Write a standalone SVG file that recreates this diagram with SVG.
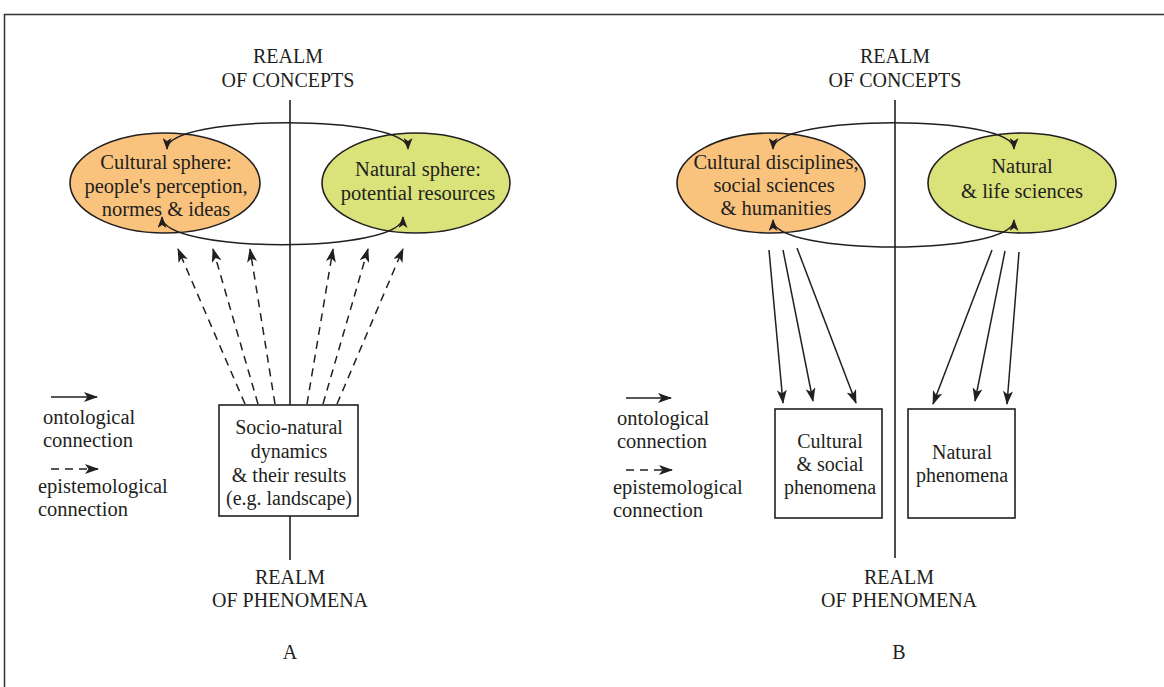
<svg xmlns="http://www.w3.org/2000/svg" width="1164" height="687" viewBox="0 0 1164 687">
<style>
text{font-family:"Liberation Serif","Times New Roman",serif;fill:#231f20;text-anchor:middle;font-size:20px}
.lg{text-anchor:start;font-size:20.5px}
.el{font-size:20.5px}
.ln{stroke:#231f20;stroke-width:1.6;fill:none}
.sol{stroke:#231f20;stroke-width:1.5;fill:none;marker-end:url(#ah)}
.dsh{stroke:#231f20;stroke-width:1.5;fill:none;stroke-dasharray:8 6;marker-end:url(#ah)}
.loop{stroke:#231f20;stroke-width:1.5;fill:none;marker-start:url(#ah2);marker-end:url(#ah2)}
.box{fill:#fff;stroke:#231f20;stroke-width:1.6}
.or{fill:#FAC37D;stroke:#231f20;stroke-width:1.6}
.gr{fill:#DAE27A;stroke:#231f20;stroke-width:1.6}
</style>
<defs>
<marker id="ah" viewBox="0 0 14 10" refX="13" refY="5" markerWidth="14" markerHeight="10" markerUnits="userSpaceOnUse" orient="auto">
<path d="M0,0 L14,5 L0,10 L3.5,5 Z" fill="#231f20"/>
</marker>
<marker id="ah2" viewBox="0 0 12 9" refX="11" refY="4.5" markerWidth="12" markerHeight="9" markerUnits="userSpaceOnUse" orient="auto-start-reverse">
<path d="M0,0 L12,4.5 L0,9 L3,4.5 Z" fill="#231f20"/>
</marker>
</defs>
<rect x="4.5" y="14.5" width="1180" height="700" fill="none" stroke="#333" stroke-width="1.5"/>

<!-- Panel A -->
<g id="realm-concepts-a"><text x="288" y="63">REALM</text><text x="288" y="87">OF CONCEPTS</text></g>
<g id="axis-a"><line class="ln" x1="290" y1="100" x2="290" y2="405"/><line class="ln" x1="290" y1="516" x2="290" y2="560"/></g>
<g id="cultural-sphere"><ellipse class="or" cx="165" cy="183" rx="95" ry="50"/>
<text class="el" x="166" y="169">Cultural sphere:</text><text class="el" x="166" y="193">people's perception,</text><text class="el" x="166" y="216">normes &amp; ideas</text></g>
<g id="natural-sphere"><ellipse class="gr" cx="416" cy="183" rx="94" ry="50"/>
<text class="el" x="418" y="176">Natural sphere:</text><text class="el" x="418" y="200">potential resources</text></g>
<g id="socio-natural"><rect class="box" x="219" y="405" width="139" height="111"/>
<text x="289" y="434">Socio-natural</text><text x="289" y="458">dynamics</text><text x="289" y="482">&amp; their results</text><text x="289" y="505">(e.g. landscape)</text></g>
<g id="realm-phen-a"><text x="290" y="584">REALM</text><text x="290" y="607">OF PHENOMENA</text><text x="290" y="659">A</text></g>
<g id="legend-a">
<line class="sol" x1="51" y1="397" x2="97" y2="397"/>
<text class="lg" x="43" y="424">ontological</text><text class="lg" x="43" y="447">connection</text>
<line class="dsh" x1="51" y1="469" x2="98" y2="469"/>
<text class="lg" x="38" y="493">epistemological</text><text class="lg" x="38" y="516">connection</text>
</g>

<!-- Panel B -->
<g id="realm-concepts-b"><text x="895" y="63">REALM</text><text x="895" y="87">OF CONCEPTS</text></g>
<g id="axis-b"><line class="ln" x1="895" y1="100" x2="895" y2="558"/></g>
<g id="cultural-disciplines"><ellipse class="or" cx="771" cy="183" rx="94" ry="50"/>
<text class="el" x="776" y="169">Cultural disciplines,</text><text class="el" x="774" y="192">social sciences</text><text class="el" x="776" y="215">&amp; humanities</text></g>
<g id="natural-sciences"><ellipse class="gr" cx="1022" cy="183" rx="94" ry="50"/>
<text class="el" x="1022" y="173">Natural</text><text class="el" x="1022" y="198">&amp; life sciences</text></g>
<g id="cultural-phenomena"><rect class="box" x="775" y="409" width="107" height="109"/>
<text x="830" y="448">Cultural</text><text x="830" y="471">&amp; social</text><text x="830" y="494">phenomena</text></g>
<g id="natural-phenomena"><rect class="box" x="908" y="409" width="107" height="109"/>
<text x="962" y="459">Natural</text><text x="962" y="482">phenomena</text></g>
<g id="realm-phen-b"><text x="899" y="584">REALM</text><text x="899" y="607">OF PHENOMENA</text><text x="899" y="659">B</text></g>
<g id="legend-b">
<line class="sol" x1="626" y1="398" x2="671" y2="398"/>
<text class="lg" x="617" y="425">ontological</text><text class="lg" x="617" y="448">connection</text>
<line class="dsh" x1="626" y1="470" x2="672" y2="470"/>
<text class="lg" x="613" y="494">epistemological</text><text class="lg" x="613" y="517">connection</text>
</g>

<g id="connectors">
<!-- loops A -->
<path class="loop" d="M167,149 C167,114 408,114 408,149"/>
<path class="loop" d="M162,217 C162,254 403,254 403,217"/>
<!-- loops B -->
<path class="loop" d="M773,149 C773,114 1014,114 1014,149"/>
<path class="loop" d="M773,220 C773,256 1014,256 1014,220"/>
<!-- dashed A -->
<path class="dsh" d="M245,404 L178,249"/>
<path class="dsh" d="M258,404 L213,249"/>
<path class="dsh" d="M275,404 L250,249"/>
<path class="dsh" d="M307,404 L333,249"/>
<path class="dsh" d="M323,404 L368,249"/>
<path class="dsh" d="M337,404 L403,249"/>
<!-- solid B -->
<path class="sol" d="M769,250 L783,403"/>
<path class="sol" d="M783,250 L813,401"/>
<path class="sol" d="M797,248 L856,403"/>
<path class="sol" d="M992,250 L933,404"/>
<path class="sol" d="M1005,251 L975,401"/>
<path class="sol" d="M1019,252 L1007,404"/>
</g>
</svg>
